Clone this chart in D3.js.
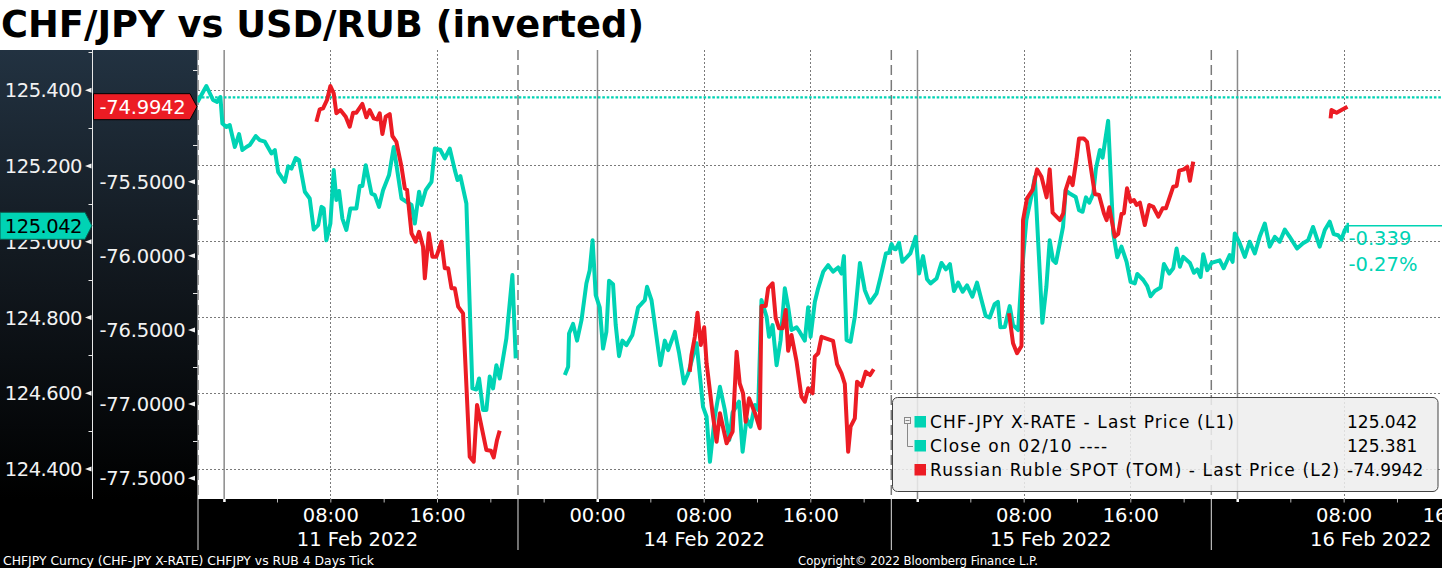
<!DOCTYPE html>
<html><head><meta charset="utf-8">
<script src="https://cdn.jsdelivr.net/npm/d3@7"></script>
<style>html,body{margin:0;padding:0;background:#fff;overflow:hidden}svg{display:block}</style>
</head><body>
<script>
// ---------------- DATA ----------------
const chfTimes = [
"02-10 22:00","02-10 22:40","02-10 23:10","02-10 23:28","02-10 23:43","02-10 23:52",
"02-11 00:10","02-11 00:25","02-11 00:48","02-11 01:07","02-11 01:22","02-11 01:40","02-11 01:55","02-11 02:22","02-11 02:40","02-11 03:03",
"02-11 03:33","02-11 03:48","02-11 04:03","02-11 04:33","02-11 04:48","02-11 05:03","02-11 05:22","02-11 05:37","02-11 06:03","02-11 06:25",
"02-11 06:43","02-11 07:03","02-11 07:18","02-11 07:28","02-11 07:40","02-11 07:58","02-11 08:13","02-11 08:25","02-11 08:37","02-11 08:52",
"02-11 09:10","02-11 09:28","02-11 09:55","02-11 10:10","02-11 10:22","02-11 10:37","02-11 11:03","02-11 11:18","02-11 11:37","02-11 11:55",
"02-11 12:22","02-11 12:43","02-11 13:18","02-11 14:03","02-11 14:18","02-11 14:37","02-11 14:48","02-11 15:07","02-11 15:33","02-11 15:48",
"02-11 16:13","02-11 16:33","02-11 16:55","02-11 17:18","02-11 17:30","02-11 17:43","02-11 18:10","02-11 18:37","02-11 18:55","02-11 19:07",
"02-11 19:25","02-11 19:40","02-11 19:55","02-11 20:10","02-11 20:25","02-11 20:40","02-11 21:10","02-11 21:37","02-11 21:52",
"02-12 12:00",
"02-13 21:33","02-13 21:48","02-13 21:52","02-13 22:10","02-13 22:28","02-13 22:48","02-13 23:10","02-13 23:25","02-13 23:38","02-13 23:52",
"02-14 00:10","02-14 00:25","02-14 00:40","02-14 00:52","02-14 01:10","02-14 01:22","02-14 01:37","02-14 01:52","02-14 02:10","02-14 02:37",
"02-14 03:03","02-14 03:33","02-14 03:43","02-14 04:03","02-14 04:43","02-14 05:03","02-14 05:18","02-14 05:48","02-14 06:07","02-14 06:29",
"02-14 06:48","02-14 07:26","02-14 07:55","02-14 08:11","02-14 08:26","02-14 08:48","02-14 09:11","02-14 09:33","02-14 09:53","02-14 10:08",
"02-14 10:37","02-14 10:53","02-14 11:11","02-14 11:29","02-14 11:48","02-14 12:03","02-14 12:18","02-14 12:41","02-14 12:52","02-14 13:08",
"02-14 13:26","02-14 13:44","02-14 14:03","02-14 14:18","02-14 14:33","02-14 14:56","02-14 15:10","02-14 15:33","02-14 15:48","02-14 15:59",
"02-14 16:18","02-14 16:33","02-14 16:56","02-14 17:18","02-14 17:40","02-14 18:03","02-14 18:18","02-14 18:29","02-14 18:41","02-14 18:59",
"02-14 19:18","02-14 19:41","02-14 20:03","02-14 20:26","02-14 20:56","02-14 21:14","02-14 21:38","02-14 21:52","02-14 22:03","02-14 22:13",
"02-14 22:22","02-14 22:37","02-14 22:52","02-14 23:28","02-14 23:52",
"02-15 00:07","02-15 00:25","02-15 00:43","02-15 00:59","02-15 01:26","02-15 01:48","02-15 02:08","02-15 02:26","02-15 02:44","02-15 03:03",
"02-15 03:23","02-15 03:43","02-15 04:07","02-15 04:28","02-15 04:48","02-15 05:07","02-15 05:25","02-15 05:47","02-15 06:02","02-15 06:13",
"02-15 06:33","02-15 06:55","02-15 07:10","02-15 07:33","02-15 07:48","02-15 08:10","02-15 08:37","02-15 08:48","02-15 09:22","02-15 09:40",
"02-15 09:55","02-15 10:10","02-15 10:23","02-15 10:55","02-15 11:07","02-15 11:25","02-15 11:52","02-15 12:07","02-15 12:23","02-15 12:38",
"02-15 12:53","02-15 13:11","02-15 13:23","02-15 13:41","02-15 13:53","02-15 14:18","02-15 14:41","02-15 14:59","02-15 15:18","02-15 15:41",
"02-15 15:59","02-15 16:18","02-15 16:29","02-15 16:56","02-15 17:14","02-15 17:29","02-15 17:48","02-15 18:14","02-15 18:29","02-15 18:53",
"02-15 19:11","02-15 19:26","02-15 19:41","02-15 19:56","02-15 20:26","02-15 20:44","02-15 20:59","02-15 21:14","02-15 21:26","02-15 21:44",
"02-15 22:03","02-15 22:40","02-15 22:58","02-15 23:25","02-15 23:38","02-15 23:48",
"02-16 00:10","02-16 00:33","02-16 00:55","02-16 01:18","02-16 01:40","02-16 02:03","02-16 02:25","02-16 02:48","02-16 03:10","02-16 03:33",
"02-16 03:55","02-16 04:28","02-16 04:55","02-16 05:18","02-16 05:40","02-16 06:10","02-16 06:33","02-16 06:55","02-16 07:13","02-16 07:33",
"02-16 07:48","02-16 08:03","02-16 08:15"
];
const chfValues = [
125.369,125.411,125.374,125.369,125.382,125.312,
125.303,125.308,125.250,125.284,125.242,125.250,125.255,125.279,125.268,125.264,
125.233,125.242,125.184,125.158,125.199,125.193,125.221,125.215,125.132,125.114,
125.032,125.044,125.092,125.088,125.004,125.048,125.189,125.110,125.134,125.061,
125.031,125.088,125.088,125.147,125.147,125.202,125.127,125.123,125.092,125.136,
125.176,125.250,125.114,125.097,125.048,125.132,125.097,125.136,125.158,125.246,
125.242,125.220,125.246,125.189,125.163,125.173,125.101,124.613,124.610,124.639,
124.556,124.556,124.644,124.613,124.674,124.639,124.745,124.912,124.692,
null,
124.648,124.670,124.758,124.783,124.739,124.793,124.890,124.925,125.004,124.859,
124.827,124.718,124.762,124.897,124.888,124.780,124.698,124.739,124.727,124.754,
124.827,124.846,124.881,124.846,124.674,124.739,124.714,124.762,124.707,124.626,
124.652,124.732,124.564,124.538,124.419,124.538,124.617,124.556,124.477,124.549,
124.578,124.446,124.534,124.512,124.569,124.556,124.846,124.802,124.749,124.780,
124.674,124.740,124.877,124.828,124.767,124.774,124.762,124.739,124.827,124.749,
124.841,124.877,124.921,124.938,124.921,124.932,124.916,124.962,124.740,124.736,
124.802,124.944,124.872,124.839,124.864,124.907,124.969,124.971,124.994,124.982,
124.980,124.997,124.947,124.969,125.013,
124.916,124.962,124.901,124.890,124.903,124.944,124.927,124.941,124.870,124.892,
124.868,124.885,124.855,124.892,124.846,124.804,124.800,124.835,124.841,124.774,
124.775,124.830,124.780,124.767,124.907,125.057,125.132,125.171,124.786,124.881,
125.004,124.951,124.944,125.039,125.136,125.127,125.118,125.083,125.079,125.117,
125.103,125.127,125.193,125.242,125.222,125.319,125.022,124.959,124.987,124.947,
124.894,124.890,124.915,124.899,124.883,124.856,124.870,124.879,124.941,124.916,
124.930,124.982,124.934,124.960,124.944,124.918,124.927,124.907,124.967,124.925,
124.944,124.951,124.930,124.965,124.947,125.022,
124.996,124.960,125.000,124.969,125.013,125.048,124.987,125.013,125.000,125.032,
125.013,124.982,124.996,125.004,125.039,124.987,125.031,125.053,125.020,125.017,
125.006,125.031,125.042
];
const rubTimes = [
"02-11 06:55","02-11 07:10","02-11 07:25","02-11 07:43","02-11 07:58","02-11 08:13","02-11 08:25","02-11 08:43","02-11 09:07","02-11 09:25",
"02-11 09:40","02-11 09:55","02-11 10:22","02-11 10:40","02-11 10:55","02-11 11:13","02-11 11:28","02-11 11:40","02-11 11:52","02-11 12:07",
"02-11 12:25","02-11 12:37","02-11 12:55","02-11 13:18","02-11 13:33","02-11 13:43","02-11 14:03","02-11 14:22","02-11 14:37","02-11 14:55",
"02-11 15:03","02-11 15:21","02-11 15:37","02-11 15:55","02-11 16:18","02-11 16:33","02-11 16:48","02-11 17:03","02-11 17:18","02-11 17:33",
"02-11 17:55","02-11 18:25","02-11 18:43","02-11 18:58","02-11 19:40","02-11 20:00","02-11 20:13","02-11 20:28","02-11 20:40",
"02-12 12:00",
"02-14 06:55","02-14 07:03","02-14 07:18","02-14 07:30","02-14 07:45","02-14 08:00","02-14 08:11","02-14 08:38","02-14 08:56","02-14 09:11",
"02-14 09:41","02-14 10:08","02-14 10:26","02-14 10:40","02-14 10:55","02-14 11:07","02-14 11:22","02-14 11:48","02-14 12:10","02-14 12:18",
"02-14 12:37","02-14 12:48","02-14 13:08","02-14 13:22","02-14 13:37","02-14 13:53","02-14 14:07","02-14 14:18","02-14 14:33","02-14 14:56",
"02-14 15:18","02-14 15:33","02-14 15:48","02-14 16:08","02-14 16:18","02-14 16:33","02-14 16:48","02-14 17:40","02-14 17:58","02-14 18:18",
"02-14 18:33","02-14 18:48","02-14 18:59","02-14 19:18","02-14 19:28","02-14 19:48","02-14 20:07","02-14 20:26","02-14 20:43",
"02-15 02:00",
"02-15 06:52","02-15 07:10","02-15 07:28","02-15 07:48","02-15 07:55","02-15 08:13","02-15 08:38","02-15 08:58","02-15 09:18","02-15 09:41",
"02-15 09:55","02-15 10:08","02-15 10:41","02-15 10:56","02-15 11:07","02-15 11:25","02-15 11:38","02-15 11:56","02-15 12:07","02-15 12:28",
"02-15 12:43","02-15 12:59","02-15 13:18","02-15 13:37","02-15 13:59","02-15 14:11","02-15 14:23","02-15 14:48","02-15 15:03","02-15 15:18",
"02-15 15:29","02-15 15:43","02-15 15:59","02-15 16:14","02-15 16:26","02-15 16:41","02-15 17:03","02-15 17:23","02-15 17:41","02-15 18:04",
"02-15 18:23","02-15 18:38","02-15 19:11","02-15 19:26","02-15 19:38","02-15 19:59","02-15 20:14","02-15 20:26","02-15 20:41",
"02-16 02:00",
"02-16 06:59","02-16 07:03","02-16 07:26","02-16 07:48","02-16 08:15"
];
const rubValues = [
-75.096,-75.012,-75.005,-74.949,-74.855,-74.904,-75.039,-75.017,-75.062,-75.129,
-75.035,-75.035,-74.976,-75.066,-75.017,-75.073,-75.080,-75.039,-75.179,-75.062,
-75.044,-75.192,-75.231,-75.399,-75.545,-75.556,-75.848,-75.905,-75.838,-75.939,
-76.152,-75.848,-76.006,-76.006,-75.905,-76.084,-76.084,-76.219,-76.219,-76.343,
-76.388,-77.355,-77.388,-77.006,-77.310,-77.314,-77.359,-77.242,-77.179,
null,
-76.782,-76.669,-76.546,-76.384,-76.601,-76.482,-76.725,-77.062,-77.254,-77.062,
-77.264,-77.186,-76.647,-76.860,-76.927,-77.119,-76.961,-77.058,-77.163,-76.339,
-76.339,-76.219,-76.185,-76.421,-76.489,-76.489,-76.365,-76.640,-76.534,-76.714,
-76.950,-76.984,-76.893,-76.927,-76.680,-76.657,-76.546,-76.573,-76.730,-76.792,
-76.864,-77.321,-77.152,-77.096,-76.849,-76.878,-76.782,-76.804,-76.765,
null,
-76.388,-76.590,-76.657,-76.608,-75.759,-75.612,-75.556,-75.417,-75.467,-75.606,
-75.417,-75.709,-75.759,-75.713,-75.556,-75.471,-75.523,-75.343,-75.208,-75.208,
-75.231,-75.394,-75.583,-75.590,-75.713,-75.759,-75.673,-75.871,-75.853,-75.718,
-75.713,-75.545,-75.635,-75.624,-75.657,-75.642,-75.792,-75.657,-75.669,-75.736,
-75.680,-75.680,-75.534,-75.529,-75.426,-75.417,-75.399,-75.494,-75.365,
null,
-75.073,-75.017,-75.035,-75.017,-74.9942
];
const closeValue = 125.381;
const chfTicks = [124.4, 124.6, 124.8, 125.0, 125.2, 125.4];
const chfMinorTicks = [124.5, 124.7, 124.9, 125.1, 125.3, 125.5];
const rubTicks = [-77.5, -77.0, -76.5, -76.0, -75.5, -75.0];
const rubMinorTicks = [-77.25, -76.75, -76.25, -75.75, -75.25, -74.75];
const sessionStarts = ["02-10 22:00", "02-13 18:00", "02-14 22:00", "02-15 22:00"];
const sessionEnds = ["02-11 22:00", "02-14 22:00", "02-15 22:00", "02-16 22:00"];
const dayStarts = ["02-11 00:00", "02-14 00:00", "02-15 00:00", "02-16 00:00"];
const hourTickTimes = ["02-11 08:00","02-11 16:00","02-14 00:00","02-14 08:00","02-14 16:00","02-15 08:00","02-15 16:00","02-16 08:00","02-16 16:00"];
const hourTickLabels = ["08:00","16:00","00:00","08:00","16:00","08:00","16:00","08:00","16:00"];
const dateLabels = ["11 Feb 2022", "14 Feb 2022", "15 Feb 2022", "16 Feb 2022"];
const legendNames = ["CHF-JPY X-RATE - Last Price (L1)", "Close on 02/10 ----", "Russian Ruble SPOT (TOM) - Last Price (L2)"];
const legendValues = ["125.042", "125.381", "-74.9942"];
const titleText = "CHF/JPY vs USD/RUB (inverted)";
const footerLeft = "CHFJPY Curncy (CHF-JPY X-RATE) CHFJPY vs RUB 4 Days  Tick";
const footerRight = "Copyright\u00A9 2022 Bloomberg Finance L.P.";

// ---------------- LAYOUT ----------------
const W = 1442, H = 568;
const plotL = 197.5, plotR = 1442, plotT = 50, plotB = 499;
const pph = 13.333;
const TEAL = "#00d3b4", RED = "#ec1c24", FONT = "DejaVu Sans";
const parse = s => d3.timeParse("%Y-%m-%d %H:%M")("2022-" + s);
const fmt = f => v => d3.format(f)(v).replace("\u2212", "-");

const x = d3.scaleTime()
  .domain([parse("02-10 22:00"), parse("02-11 22:00"), parse("02-13 18:00"), parse("02-16 16:00")])
  .range([plotL, plotL + 24 * pph, plotL + 24 * pph, plotL + 94 * pph]);
const yL = d3.scaleLinear().domain([124.321, 125.506]).range([plotB, plotT]);
const yR = d3.scaleLinear().domain([-77.640, -74.612]).range([plotB, plotT]);

const chf = chfTimes.map((t, i) => ({t: parse(t), v: chfValues[i]}));
const rub = rubTimes.map((t, i) => ({t: parse(t), v: rubValues[i]}));

const svg = d3.select("body").append("svg").attr("width", W).attr("height", H)
  .style("font-family", FONT);
svg.append("rect").attr("width", W).attr("height", H).attr("fill", "#fff");

const defs = svg.append("defs");
const grad = defs.append("linearGradient").attr("id", "pg").attr("x1", 0).attr("x2", 0).attr("y1", 0).attr("y2", 1);
grad.append("stop").attr("offset", "0%").attr("stop-color", "#223241");
grad.append("stop").attr("offset", "45%").attr("stop-color", "#131a21");
grad.append("stop").attr("offset", "100%").attr("stop-color", "#000");
defs.append("clipPath").attr("id", "clip").append("rect")
  .attr("x", plotL).attr("y", plotT).attr("width", plotR - plotL).attr("height", plotB - plotT);

// panels
svg.append("rect").attr("x", 0).attr("y", plotT).attr("width", plotL).attr("height", plotB - plotT).attr("fill", "url(#pg)");
svg.append("rect").attr("x", 0).attr("y", plotB).attr("width", W).attr("height", H - plotB).attr("fill", "#000");

// grid
const grid = svg.append("g").attr("clip-path", "url(#clip)");
grid.selectAll(".hg").data(chfTicks).join("line")
  .attr("x1", plotL).attr("x2", plotR).attr("y1", d => yL(d)).attr("y2", d => yL(d))
  .attr("stroke", "#7a7a7a").attr("stroke-width", 1).attr("stroke-dasharray", "2,2").attr("shape-rendering", "crispEdges");
grid.selectAll(".vd").data(hourTickTimes.filter((t, i) => hourTickLabels[i] !== "00:00")).join("line")
  .attr("x1", d => x(parse(d))).attr("x2", d => x(parse(d))).attr("y1", plotT).attr("y2", plotB)
  .attr("stroke", "#7a7a7a").attr("stroke-width", 1).attr("stroke-dasharray", "2,2").attr("shape-rendering", "crispEdges");
grid.selectAll(".vs").data(dayStarts).join("line")
  .attr("x1", d => x(parse(d))).attr("x2", d => x(parse(d))).attr("y1", plotT).attr("y2", plotB)
  .attr("stroke", "#8a8a8a").attr("stroke-width", 1.5);
grid.selectAll(".vb").data(sessionStarts).join("line")
  .attr("x1", d => x(parse(d)) + 0.5).attr("x2", d => x(parse(d)) + 0.5).attr("y1", plotT).attr("y2", plotB)
  .attr("stroke", "#7a7a7a").attr("stroke-width", 1.5).attr("stroke-dasharray", "10,5");

// close line
grid.append("line").attr("x1", plotL).attr("x2", plotR).attr("y1", yL(closeValue)).attr("y2", yL(closeValue))
  .attr("stroke", TEAL).attr("stroke-width", 2.2).attr("stroke-dasharray", "2.6,1.8");

// legend box
const lg = svg.append("g");
lg.append("rect").attr("x", 892.5).attr("y", 397.5).attr("width", 545.5).attr("height", 94).attr("rx", 5)
  .attr("fill", "rgba(238,238,238,0.86)").attr("stroke", "#444").attr("stroke-width", 1);

// lines
const line = d3.line().defined(d => d.v != null).x(d => x(d.t));
const plot = svg.append("g").attr("clip-path", "url(#clip)");
plot.append("path").datum(chf).attr("d", line.y(d => yL(d.v)))
  .attr("fill", "none").attr("stroke", TEAL).attr("stroke-width", 4).attr("stroke-linejoin", "round");
plot.append("path").datum(rub).attr("d", line.y(d => yR(d.v)))
  .attr("fill", "none").attr("stroke", RED).attr("stroke-width", 4).attr("stroke-linejoin", "round");

// last value line + change labels
const lastChf = chf[chf.length - 1];
const change = lastChf.v - closeValue;
const lx = x(lastChf.t);
svg.append("line").attr("x1", lx).attr("x2", plotR).attr("y1", yL(lastChf.v)).attr("y2", yL(lastChf.v))
  .attr("stroke", TEAL).attr("stroke-width", 1.5);
svg.append("rect").attr("x", lx - 1).attr("y", yL(lastChf.v) - 3).attr("width", 2.5).attr("height", 10).attr("fill", TEAL);
svg.append("text").attr("x", lx + 1).attr("y", 245).attr("fill", TEAL).attr("font-size", 19.5)
  .text(fmt(".3f")(change));
svg.append("text").attr("x", lx + 1).attr("y", 271).attr("fill", TEAL).attr("font-size", 19.5)
  .text(fmt(".2f")(change / closeValue * 100) + "%");

// legend content
const rowsY = [427.5, 451.5, 475.5];
const legColors = [TEAL, TEAL, RED];
legendNames.forEach((n, i) => {
  lg.append("rect").attr("x", 914.5).attr("y", rowsY[i] - 11.5).attr("width", 11.5).attr("height", 11.5).attr("fill", legColors[i]);
  lg.append("text").attr("x", 930).attr("y", rowsY[i]).attr("font-size", 17).attr("letter-spacing", 1.1)
    .attr("fill", "#000").text(n);
  lg.append("text").attr("x", 1347).attr("y", rowsY[i]).attr("font-size", 17).attr("fill", "#000").text(legendValues[i]);
});
lg.append("rect").attr("x", 904.5).attr("y", 417.5).attr("width", 6).attr("height", 6).attr("fill", "none").attr("stroke", "#888");
lg.append("line").attr("x1", 905.5).attr("x2", 909.5).attr("y1", 420.5).attr("y2", 420.5).attr("stroke", "#888");
lg.append("path").attr("d", "M907.5,423.5V446.5H913").attr("fill", "none").attr("stroke", "#888");

// left axis (CHF)
const ax = svg.append("g").attr("fill", "#f2f2f2");
ax.append("line").attr("x1", 92.5).attr("x2", 92.5).attr("y1", plotT).attr("y2", plotB).attr("stroke", "#e8e8e8");
ax.selectAll(".lm").data(chfMinorTicks).join("line")
  .attr("x1", 88.5).attr("x2", 92.5).attr("y1", d => Math.round(yL(d)) + 0.5).attr("y2", d => Math.round(yL(d)) + 0.5).attr("stroke", "#e8e8e8");
ax.selectAll(".lt").data(chfTicks).join("path")
  .attr("d", d => `M85,${yL(d)}L91.5,${yL(d) - 2.5}L91.5,${yL(d) + 2.5}Z`).attr("fill", "#f2f2f2");
ax.selectAll(".ll").data(chfTicks).join("text")
  .attr("x", 82).attr("y", d => yL(d) + 7).attr("text-anchor", "end").attr("font-size", 19.5).attr("letter-spacing", -0.5)
  .text(d => fmt(".3f")(d));
// right axis (RUB)
ax.selectAll(".rm").data(rubMinorTicks).join("line")
  .attr("x1", 193).attr("x2", 197.5).attr("y1", d => Math.round(yR(d)) + 0.5).attr("y2", d => Math.round(yR(d)) + 0.5).attr("stroke", "#e8e8e8");
ax.selectAll(".rt").data(rubTicks).join("path")
  .attr("d", d => `M188,${yR(d)}L195,${yR(d) - 2.5}L195,${yR(d) + 2.5}Z`).attr("fill", "#f2f2f2");
ax.selectAll(".rl").data(rubTicks).join("text")
  .attr("x", 185.5).attr("y", d => yR(d) + 7).attr("text-anchor", "end").attr("font-size", 19.5).attr("letter-spacing", -0.2)
  .text(d => fmt(".4f")(d));

// last value boxes
const lastRub = rub[rub.length - 1];
const ty = yL(lastChf.v), ry = yR(lastRub.v);
svg.append("path").attr("d", `M0,${ty - 13.5}H85L92,${ty}L85,${ty + 13.5}H0Z`).attr("fill", TEAL).attr("stroke", "#0a5a4c").attr("stroke-width", 1);
svg.append("text").attr("x", 82).attr("y", ty + 7).attr("text-anchor", "end").attr("font-size", 19.5).attr("letter-spacing", -0.5)
  .attr("fill", "#000").text(legendValues[0]);
svg.append("path").attr("d", `M93.5,${ry - 13}H190L197,${ry}L190,${ry + 13}H93.5Z`).attr("fill", RED).attr("stroke", "#000").attr("stroke-width", 1);
svg.append("text").attr("x", 185.5).attr("y", ry + 7).attr("text-anchor", "end").attr("font-size", 19.5).attr("letter-spacing", -0.2)
  .attr("fill", "#fff").text(fmt(".4f")(lastRub.v));

// bottom axis
const bx = svg.append("g");
sessionStarts.forEach((s, i) => {
  const a = parse(s), b = parse(sessionEnds[i]);
  d3.timeHours(a, b, 1).filter(t => t.getHours() % 4 === 0).forEach(t => {
    const xx = x(t);
    if (xx > plotR) return;
    const isDay = t.getHours() === 0;
    bx.append("rect").attr("x", xx - (isDay ? 1 : 0.5)).attr("y", plotB).attr("width", isDay ? 2.5 : 1).attr("height", isDay ? 3 : 3.5)
      .attr("fill", isDay ? "#fff" : "#bbb");
  });
  bx.append("line").attr("x1", x(a) + 0.5).attr("x2", x(a) + 0.5).attr("y1", plotB).attr("y2", 550).attr("stroke", "#e0e0e0").attr("stroke-width", 1);
  bx.append("text").attr("x", (x(a) + x(b)) / 2).attr("y", 546).attr("text-anchor", "middle").attr("font-size", 19.5)
    .attr("fill", "#fff").text(dateLabels[i]);
});
bx.selectAll(".hl").data(hourTickTimes).join("text")
  .attr("x", d => x(parse(d))).attr("y", 522).attr("text-anchor", "middle").attr("font-size", 19.5).attr("fill", "#fff")
  .text((d, i) => hourTickLabels[i]);

// title & footer
svg.append("text").attr("x", 1).attr("y", 36.5).attr("font-size", 36.8).attr("font-weight", "bold").attr("fill", "#000").text(titleText);
svg.append("text").attr("x", 3).attr("y", 565).attr("font-size", 12.5).attr("fill", "#fff")
  .attr("textLength", 371).attr("lengthAdjust", "spacingAndGlyphs").text(footerLeft);
svg.append("text").attr("x", 798).attr("y", 565).attr("font-size", 12.5).attr("fill", "#fff")
  .attr("textLength", 240).attr("lengthAdjust", "spacingAndGlyphs").text(footerRight);
</script>
</body></html>
